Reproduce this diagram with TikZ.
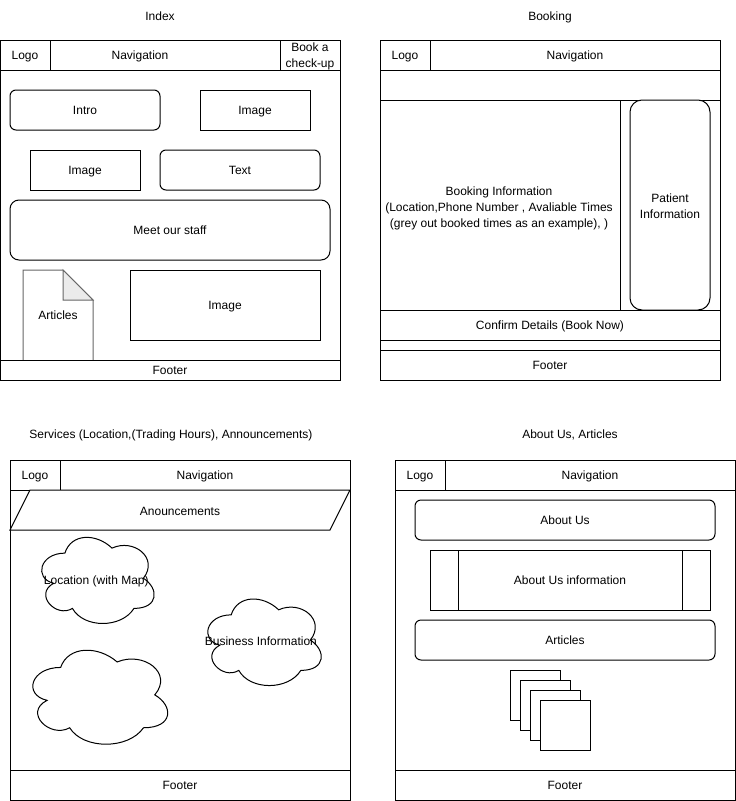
\documentclass[tikz,border=0pt]{standalone}
\usepackage{fontspec}
\setmainfont{Liberation Sans}
\usetikzlibrary{calc}
\definecolor{docgray}{HTML}{666666}
\definecolor{foldgray}{HTML}{EBEBEB}
\tikzset{
  base/.style={line width=1pt, draw=black},
  wb/.style={base, fill=white, inner sep=0pt, outer sep=0pt, align=center,
    font=\fontsize{12}{15.5}\selectfont, anchor=center, text height=10.9pt, text depth=2.5pt},
  ml/.style={text height={}, text depth={}},
  rr/.style={rounded corners=6pt},
  lbl/.style={inner sep=0pt, align=center, font=\fontsize{12}{15.5}\selectfont,
    text height=10.9pt, text depth=2.5pt},
  mlbl/.style={inner sep=0pt, align=center, font=\fontsize{12}{15.8}\selectfont},
  docline/.style={line width=1pt, draw=docgray},
}
\newcommand\wbox[6][]{\node[wb,#1,minimum width={(#4-#2)*1pt},minimum height={(#5-#3)*1pt}] (#6) at ({(#2+#4)/2},{(#3+#5)/2})}
\newcommand\cloudat[5]{%
  \draw[base, fill=white, shift={(#2,#3)}, xscale=#4, yscale=#5]
    (0.25,0.25) .. controls (0.05,0.25) and (0,0.5) .. (0.16,0.55)
    .. controls (0,0.66) and (0.18,0.9) .. (0.31,0.8)
    .. controls (0.4,1) and (0.7,1) .. (0.8,0.8)
    .. controls (1,0.8) and (1,0.6) .. (0.875,0.5)
    .. controls (1,0.3) and (0.8,0.1) .. (0.625,0.2)
    .. controls (0.5,0.05) and (0.3,0.05) .. (0.25,0.25) -- cycle;
  \coordinate (#1) at ({#2+#4/2},{#3+#5/2});}
\begin{document}
\begin{tikzpicture}[x=1pt,y=-1pt]
\fill[white] (0,0) rectangle (736,801);
\useasboundingbox (0,0) rectangle (736,801);

% ---------- Titles
\node[lbl] (t1) at (160,16) {Index};
\node[lbl] (t2) at (550,16) {Booking};
\node[lbl] (t3) at (171,434) {Services (Location,(Trading Hours), Announcements)};
\node[lbl] (t4) at (570,434) {About Us, Articles};

% ---------- Index
\wbox[ml]{0}{40}{340}{380}{iframe}{};
\wbox{0}{40}{280}{70}{inav}{Navigation};
\wbox{0}{40}{50}{70}{ilogo}{Logo};
\wbox[ml]{280}{40}{340}{70}{ibook}{};
\node[mlbl] (ibooktxt) at (310,56.5) {Book a\\check-up};
\wbox[rr]{10}{90}{160}{130}{iintro}{Intro};
\wbox{200}{90}{310}{130}{iimg1}{Image};
\wbox{30}{150}{140}{190}{iimg2}{Image};
\wbox[rr]{160}{150}{320}{190}{itext}{Text};
\wbox[rounded corners=9pt]{10}{200}{330}{260}{istaff}{Meet our staff};
\wbox{130}{270}{320}{340}{iimg3}{Image};
\fill[white] (23,270) -- (63,270) -- (93,300) -- (93,360) -- (23,360) -- cycle;
\draw[docline] (23,360) -- (23,270) -- (63,270) -- (93,300) -- (93,360);
\filldraw[docline, fill=foldgray] (63,270) -- (63,300) -- (93,300) -- cycle;
\node[lbl] (iart) at (58,315.5) {Articles};
\wbox{0}{360}{340}{380}{ifoot}{Footer};

% ---------- Booking
\wbox[ml]{380}{40}{720}{380}{bframe}{};
\wbox{430}{40}{720}{70}{bnav}{Navigation};
\wbox{380}{40}{430}{70}{blogo}{Logo};
\wbox[ml]{380}{70}{720}{100}{bblank}{};
\wbox[ml]{380}{100}{620}{310}{binfo}{};
\node[mlbl] (binfotxt) at (499,208.5) {Booking Information\\(Location,Phone Number , Avaliable Times\\(grey out booked times as an example), )};
\wbox[ml]{620}{100}{720}{310}{bside}{};
\wbox[ml,rounded corners=12pt]{630}{100}{710}{310}{bpat}{};
\node[mlbl] (bpattxt) at (670,206) {Patient\\Information};
\wbox{380}{310}{720}{340}{bconf}{Confirm Details (Book Now)};
\wbox[ml]{380}{340}{720}{350}{bthin}{};
\wbox{380}{350}{720}{380}{bfoot}{Footer};

% ---------- Services
\wbox[ml]{10}{460}{350}{800}{sframe}{};
\wbox{60}{460}{350}{490}{snav}{Navigation};
\wbox{10}{460}{60}{490}{slogo}{Logo};
\draw[base, fill=white] (30,490) -- (350,490) -- (330,530) -- (10,530) -- cycle;
\node[lbl] (sann) at (180,511) {Anouncements};
\cloudat{c1}{33.5}{528}{125.6}{100.5}
\cloudat{c2}{199.5}{589.6}{126.7}{101}
\cloudat{c3}{23}{640}{150.6}{109.7}
\node[lbl] (sloc) at ($(c1)+(0,2)$) {Location (with Map)};
\node[lbl] (sbiz) at ($(c2)+(-2,1)$) {Business Information};
\wbox{10}{770}{350}{800}{sfoot}{Footer};

% ---------- About
\wbox[ml]{395}{460}{735}{800}{aframe}{};
\wbox{445}{460}{735}{490}{anav}{Navigation};
\wbox{395}{460}{445}{490}{alogo}{Logo};
\wbox[rr]{415}{500}{715}{540}{aabout}{About Us};
\wbox{430}{550}{710}{610}{ainfo}{About Us information};
\draw[base] ($(ainfo.north west)+(28,0)$) -- ($(ainfo.south west)+(28,0)$);
\draw[base] ($(ainfo.north east)+(-28,0)$) -- ($(ainfo.south east)+(-28,0)$);
\wbox[rr]{415}{620}{715}{660}{aart}{Articles};
\wbox[ml]{510}{670}{560}{720}{sq1}{};
\wbox[ml]{520}{680}{570}{730}{sq2}{};
\wbox[ml]{530}{690}{580}{740}{sq3}{};
\wbox[ml]{540}{700}{590}{750}{sq4}{};
\wbox{395}{770}{735}{800}{afoot}{Footer};
\end{tikzpicture}
\end{document}
